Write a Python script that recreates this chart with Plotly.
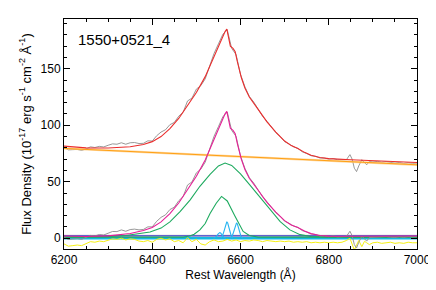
import plotly.graph_objects as go

# ---------------- data ----------------
# model wavelengths
W_MODEL = [6200, 6250, 6300, 6350, 6380, 6400, 6420, 6440, 6460, 6480, 6500, 6520,
           6540, 6550, 6560, 6565, 6569, 6573, 6577, 6583, 6588, 6593, 6597, 6602,
           6610, 6620, 6640, 6660, 6680, 6700, 6715, 6730, 6745, 6760, 6780, 6800,
           6850, 6900, 6950, 7000]
# total model (continuum + lines), red
RED = [81.5, 80, 79.8, 81, 83, 85.5, 90, 97, 106, 117, 129, 143,
       161, 171, 179, 183, 185, 177, 170, 168, 165, 156, 149, 142,
       133, 125, 114, 103, 94, 86, 82, 79.5, 76, 73.5, 71.5, 70.5,
       69.5, 68.8, 67.9, 67]
# total line model, magenta
MAGENTA = [2, 1.5, 2.1, 4.2, 6.8, 9.6, 14.5, 21.8, 31.2, 42.6, 54.9, 69.3,
           87.7, 97.8, 106, 110.1, 112.2, 104.3, 97.3, 95.4, 92.5, 83.6, 76.7, 69.8,
           60.9, 53.1, 42.5, 31.8, 23.2, 15.6, 11.8, 9.6, 6.4, 4.1, 2.5, 1.9,
           1.8, 2.0, 2.0, 2.0]

# power-law continuum, orange
CONT_W = [6200, 7000]
CONT = [79.5, 65]

# broad Halpha component (green)
BROAD_W = [6200, 6300, 6340, 6370, 6395, 6420, 6440, 6463, 6486, 6508, 6531, 6550,
           6565, 6580, 6600, 6621, 6644, 6667, 6690, 6712, 6735, 6760, 6800, 7000]
BROAD = [1, 1.5, 2.5, 4, 5.5, 9, 14.5, 23.5, 34, 46, 56.5, 64,
         66.5, 64.5, 57, 47.3, 36.5, 25, 14.7, 7.4, 3.2, 1.5, 1, 1]

# intermediate Halpha component (green)
NARROWG_W = [6200, 6470, 6485, 6495, 6508, 6520, 6531, 6545, 6557, 6570, 6587, 6595,
             6606, 6620, 6640, 7000]
NARROWG = [1, 1, 2, 3.5, 7.4, 13, 22, 31, 37, 33, 20, 13.5,
           6, 2.5, 1, 1]

# narrow lines (cyan): [NII]6548, Halpha narrow, [NII]6583
NL1_W = [6539, 6543, 6546, 6549, 6551, 6553, 6555, 6557, 6560, 6563, 6567]
NL1 = [0, 0.7, 1.9, 3.6, 4.6, 5, 4.6, 3.6, 1.9, 0.7, 0]
NL2_W = [6555, 6559, 6562, 6565, 6567, 6569, 6571, 6573, 6576, 6579, 6583]
NL2 = [0, 2.0, 5.5, 10.6, 13.5, 14.6, 13.5, 10.6, 5.5, 2.0, 0]
NL3_W = [6577, 6581, 6584, 6587, 6589, 6591, 6593, 6595, 6598, 6601, 6605]
NL3 = [0, 1.8, 5.1, 9.9, 12.6, 13.6, 12.6, 9.9, 5.1, 1.8, 0]

# observed spectrum grid
DATA_W = list(range(6200, 6841, 10)) + [6848, 6853, 6858, 6863, 6868, 6875, 6881, 6886, 6892] \
    + list(range(6900, 7001, 10))
# observed spectrum (gray, upper)
DATA = [80.5, 78.2, 78.4, 78.6, 77.8, 79, 80.9, 80.3, 81.3, 80.8, 82.3, 83.5, 83.2,
        84.5, 83.2, 84.5, 84.7, 83.8, 84, 86.2, 86, 90.7, 94, 96, 100.5, 102.5,
        108, 111.5, 121.5, 124, 132, 135, 141, 153, 163.5, 172, 180.5, 184.5, 168,
        162.5, 145, 134, 125.5, 120.5, 114.5, 108, 103.5, 98.5, 93.5, 90, 85.5, 83.5,
        81, 79.5, 76.5, 75, 73, 72.5, 71, 71, 70, 70.5, 69.5, 69.5, 69.5,
        74, 70, 62, 59, 64, 69.5, 67, 65, 68,
        67.5, 68, 67.3, 67.8, 67, 66.5, 67, 66.2, 66.8, 66.3, 66.5]
# continuum-subtracted spectrum (gray, lower)
DATA_SUB = [1.0, -1.1, -0.7, -0.4, -1.0, 0.4, 2.5, 2.1, 3.3, 2.9, 4.6, 6.0, 5.9,
            7.4, 6.2, 7.7, 8.1, 7.4, 7.8, 10.1, 10.1, 15.0, 18.5, 20.7, 25.4, 27.5,
            33.2, 36.9, 47.1, 49.8, 57.9, 61.1, 67.3, 79.5, 90.2, 98.8, 107.5, 111.7, 95.4,
            90.1, 72.8, 61.9, 53.6, 48.8, 43.0, 36.7, 32.3, 27.5, 22.7, 19.4, 15.1, 13.2,
            10.9, 9.6, 6.8, 5.5, 3.7, 3.3, 2.0, 2.2, 1.4, 2.1, 1.2, 1.4, 1.6,
            6.2, 2.3, -5.6, -8.6, -3.6, 1.9, -0.5, -2.5, 0.6,
            0.7, 1.4, 0.9, 1.5, 0.9, 0.6, 1.3, 0.7, 1.4, 1.1, 1.5]
# residuals (yellow, offset)
RESID = [-5, -7, -6.5, -6, -6.5, -5, -3, -3.5, -2.5, -3, -1.5, -0.5, -1,
         0, -1.5, -0.5, -1, -2.5, -3, -2, -3.5, -1, 0, -1.5, -0.5, -3,
         -2, -4, 0.5, -3, -1, -5, -6, -3, -1.5, -3, -2.5, -1, -2.5,
         -1.5, -3, -2, -2.5, -1.5, -2, -3, -2, -2.5, -3, -2.5, -3, -2.5,
         -3.5, -3, -3.5, -3, -4, -3.5, -4, -3.5, -4, -3.5, -4, -3.5, -2,
         0, -5, -10.4, -6, -2, -7.4, -2.7, -4, -5.6,
         -4, -3.5, -4.5, -4, -3.5, -4.5, -4, -4.5, -3.5, -4, -4]

ZERO_W = [6200, 7000]
ZERO = [0, 0]
BASE_BLUE = [2.3, 2.3]
BASE_GRAY = [1.4, 1.4]

TITLE = "1550+0521_4"
X_TICKS = [6200, 6400, 6600, 6800, 7000]
Y_TICKS = [0, 50, 100, 150]

# ---------------- figure ----------------
fig = go.Figure()


def line(x, y, color, width=1.0):
    fig.add_trace(go.Scatter(x=x, y=y, mode="lines", hoverinfo="skip",
                             line=dict(color=color, width=width)))


line(ZERO_W, BASE_GRAY, "rgba(200,200,200,0.9)", 4)
line(ZERO_W, ZERO, "rgb(20,185,225)", 2.5)
line(ZERO_W, BASE_BLUE, "rgba(70,70,210,0.8)", 1.5)
line(BROAD_W, BROAD, "rgb(30,170,95)", 1.1)
line(NARROWG_W, NARROWG, "rgb(30,170,95)", 1.1)
line(NL1_W, NL1, "rgb(40,180,240)", 1.1)
line(NL2_W, NL2, "rgb(40,180,240)", 1.1)
line(NL3_W, NL3, "rgb(40,180,240)", 1.1)
line(DATA_W, RESID, "rgb(245,240,20)", 1.0)
line(DATA_W, DATA, "rgb(140,140,140)", 0.9)
line(DATA_W, DATA_SUB, "rgb(140,140,140)", 0.9)
line(CONT_W, CONT, "rgba(255,200,120,0.7)", 2.2)
line(CONT_W, CONT, "rgb(255,160,20)", 1.0)
line(W_MODEL, RED, "rgb(235,45,45)", 1.1)
line(W_MODEL, MAGENTA, "rgb(230,30,150)", 1.1)

fig.add_annotation(text=TITLE, xref="paper", yref="paper", x=0.035, y=0.91,
                   xanchor="left", yanchor="middle", showarrow=False,
                   font=dict(size=15, color="black"))

axis_common = dict(showline=True, linecolor="black", linewidth=1, mirror="allticks",
                   ticks="inside", tickcolor="black", tickwidth=1, showgrid=False,
                   zeroline=False, tickfont=dict(size=12, color="black"),
                   automargin=False)

fig.update_xaxes(range=[6200, 7000], tickvals=X_TICKS, ticklen=6,
                 minor=dict(dtick=50, ticklen=3, ticks="inside", tickcolor="black", showgrid=False),
                 title=dict(text="Rest Wavelength (Å)", font=dict(size=12, color="black"), standoff=4),
                 **axis_common)
fig.update_yaxes(range=[-9.5, 194], tickvals=Y_TICKS, ticklen=6,
                 minor=dict(dtick=10, ticklen=3, ticks="inside", tickcolor="black", showgrid=False),
                 title=dict(text="Flux Density (10<sup>-17</sup> erg s<sup>-1</sup> cm<sup>-2</sup> Å<sup>-1</sup>)",
                            font=dict(size=13, color="black"), standoff=6),
                 **axis_common)

# the page body has an 8px margin, so the figure is offset by 8px inside the window
fig.update_layout(width=428, height=282, margin=dict(l=56, r=19, t=11, b=41),
                  paper_bgcolor="white", plot_bgcolor="white", showlegend=False,
                  font=dict(family="Liberation Sans, Arial, sans-serif", color="black"))

fig.write_html("out.html")
